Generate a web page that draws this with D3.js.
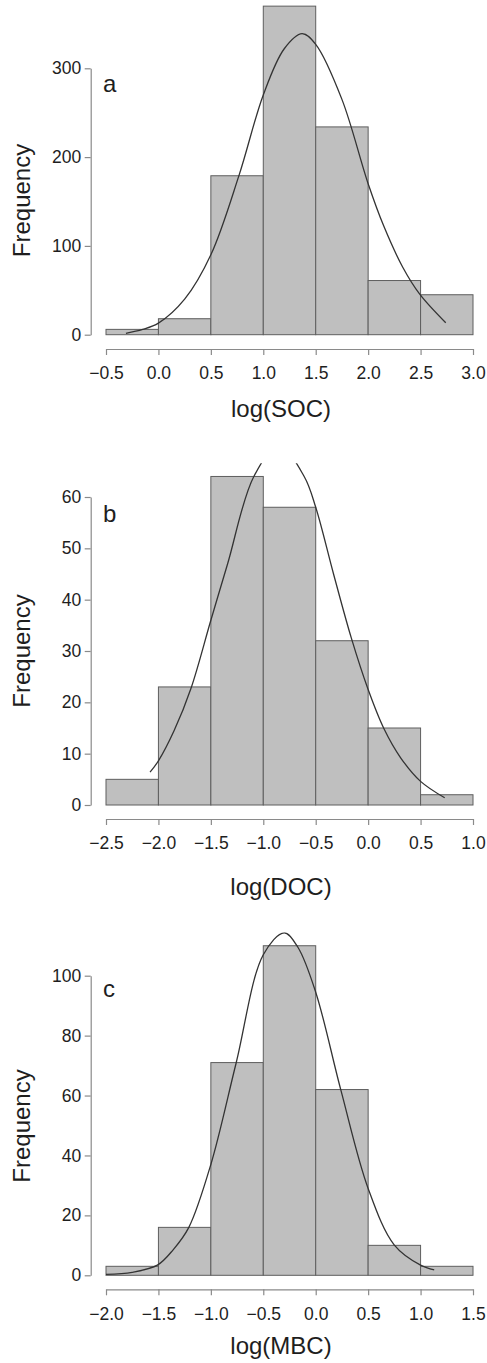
<!DOCTYPE html>
<html>
<head>
<meta charset="utf-8">
<script src="https://cdn.jsdelivr.net/npm/d3@7"></script>
<style>
  html, body { margin: 0; padding: 0; background: #fff; }
  svg { display: block; font-family: "Liberation Sans", Arial, Helvetica, sans-serif; }
</style>
</head>
<body>
<svg id="chart" width="487" height="1363"></svg>
<script>
// ---- histogram data: bin edges and counts ----
const socBins   = [-0.5, 0.0, 0.5, 1.0, 1.5, 2.0, 2.5, 3.0];
const socCounts = [6, 18, 179, 370, 234, 61, 45];
const docBins   = [-2.5, -2.0, -1.5, -1.0, -0.5, 0.0, 0.5, 1.0];
const docCounts = [5, 23, 64, 58, 32, 15, 2];
const mbcBins   = [-2.0, -1.5, -1.0, -0.5, 0.0, 0.5, 1.0, 1.5];
const mbcCounts = [3, 16, 71, 110, 62, 10, 3];

// ---- fitted normal curves (frequency scale) ----
const socCurveX = [-0.31, -0.15, 0.0, 0.25, 0.5, 0.77, 1.0, 1.2, 1.37, 1.5, 1.75, 2.0, 2.15, 2.33, 2.49, 2.74];
const socCurveY = [1.6, 6, 13, 40, 90, 180, 270, 322, 339, 327, 265, 170, 122, 76, 46, 13.5];
const docCurveX = [-2.08, -2.0, -1.85, -1.69, -1.5, -1.34, -1.09, -0.85, -0.61, -0.5, -0.33, -0.16, 0.0, 0.15, 0.31, 0.5, 0.73];
const docCurveY = [6.4, 8.6, 14.5, 22.7, 36, 47, 64, 70, 64, 58, 45, 32.5, 22.5, 14.9, 9.2, 4.6, 1.4];
const mbcCurveX = [-2.0, -1.75, -1.51, -1.36, -1.21, -1.0, -0.76, -0.5, -0.3, -0.17, 0.0, 0.24, 0.5, 0.75, 1.0, 1.13];
const mbcCurveY = [0.3, 1.0, 3.4, 8.5, 16, 37, 70.7, 107, 114.3, 109.5, 94.5, 61.8, 29, 10.1, 3.4, 1.8];

// ---- axis ticks and labels ----
const socYTicks = [0, 100, 200, 300];
const docYTicks = [0, 10, 20, 30, 40, 50, 60];
const mbcYTicks = [0, 20, 40, 60, 80, 100];
const panelLetters = ["a", "b", "c"];
const xTitles = ["log(SOC)", "log(DOC)", "log(MBC)"];
const yTitle = "Frequency";

// ---- panel layout (pixels) ----
const layout = [
  { y0: 334.7, yTop: 68.3,  xAxisY: 349,    clipTop: -20,   letterY: 91.7,  titleY: 417,  yTitleY: 200.5 },
  { y0: 805,   yTop: 497,   xAxisY: 819,    clipTop: 463.3, letterY: 521.7, titleY: 895,  yTitleY: 651 },
  { y0: 1275.3,yTop: 975.7, xAxisY: 1289.3, clipTop: 932.2, letterY: 996.7, titleY: 1354, yTitleY: 1126 }
];

const panels = [
  { bins: socBins, counts: socCounts, cx: socCurveX, cy: socCurveY, yTicks: socYTicks },
  { bins: docBins, counts: docCounts, cx: docCurveX, cy: docCurveY, yTicks: docYTicks },
  { bins: mbcBins, counts: mbcCounts, cx: mbcCurveX, cy: mbcCurveY, yTicks: mbcYTicks }
];

const svg = d3.select("#chart");
const xLeft = 106, xRight = 473;
const axisColor = "#8a8a8a";
const textColor = "#1e1e1e";
const fmtX = d3.format(".1f");
const defs = svg.append("defs");

panels.forEach((p, i) => {
  const L = layout[i];
  const x = d3.scaleLinear().domain([p.bins[0], p.bins[p.bins.length - 1]]).range([xLeft, xRight]);
  const yMaxTick = p.yTicks[p.yTicks.length - 1];
  const y = d3.scaleLinear().domain([0, yMaxTick]).range([L.y0, L.yTop]);
  const g = svg.append("g");

  // bars
  const binData = p.counts.map((c, k) => ({ x0: p.bins[k], x1: p.bins[k + 1], n: c }));
  g.selectAll("rect.bar").data(binData).enter().append("rect")
    .attr("class", "bar")
    .attr("x", d => x(d.x0))
    .attr("width", d => x(d.x1) - x(d.x0))
    .attr("y", d => y(d.n))
    .attr("height", d => y(0) - y(d.n))
    .attr("fill", "#bfbfbf")
    .attr("stroke", "#5e5e5e")
    .attr("stroke-width", 1);

  // fitted curve, clipped to the plot region
  const clipId = "clip" + i;
  defs.append("clipPath").attr("id", clipId).append("rect")
    .attr("x", 0).attr("y", L.clipTop).attr("width", 487).attr("height", L.xAxisY - L.clipTop);
  const pts = p.cx.map((v, k) => [v, p.cy[k]]);
  const line = d3.line().x(d => x(d[0])).y(d => y(d[1])).curve(d3.curveCatmullRom.alpha(0.5));
  g.append("path")
    .attr("d", line(pts))
    .attr("clip-path", `url(#${clipId})`)
    .attr("fill", "none")
    .attr("stroke", "#333")
    .attr("stroke-width", 1.3);

  // x axis
  const xAxis = g.append("g")
    .attr("transform", `translate(0,${L.xAxisY})`)
    .call(d3.axisBottom(x).tickValues(p.bins).tickFormat(fmtX).tickSize(6).tickSizeOuter(0).tickPadding(12));
  // y axis
  const yAxis = g.append("g")
    .attr("transform", `translate(90.7,0)`)
    .call(d3.axisLeft(y).tickValues(p.yTicks).tickFormat(d3.format("d")).tickSize(6).tickSizeOuter(0).tickPadding(3.5));

  [xAxis, yAxis].forEach(a => {
    a.select(".domain").attr("stroke", axisColor).attr("stroke-width", 1.2);
    a.selectAll(".tick line").attr("stroke", axisColor).attr("stroke-width", 1.2);
    a.selectAll(".tick text").attr("fill", textColor).attr("font-size", 17.5)
      .attr("font-family", "'Liberation Sans', Arial, Helvetica, sans-serif");
  });

  // panel letter
  g.append("text").attr("x", 103).attr("y", L.letterY)
    .attr("font-size", 24).attr("fill", textColor).text(panelLetters[i]);

  // x title
  g.append("text").attr("x", 281).attr("y", L.titleY)
    .attr("text-anchor", "middle").attr("font-size", 24).attr("fill", textColor).text(xTitles[i]);

  // y title
  g.append("text")
    .attr("transform", `translate(29.5,${L.yTitleY}) rotate(-90)`)
    .attr("text-anchor", "middle").attr("font-size", 24).attr("fill", textColor).text(yTitle);
});
</script>
</body>
</html>
